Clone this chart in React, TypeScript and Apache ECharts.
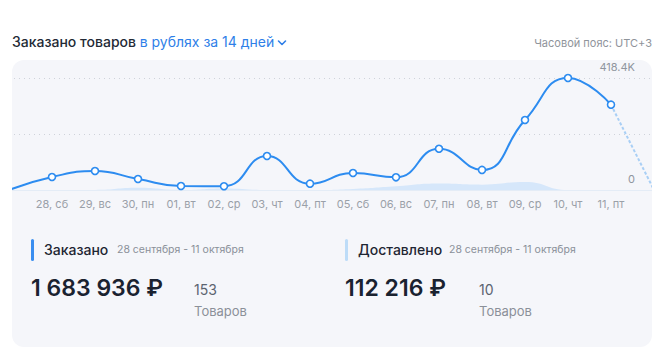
import React, { useEffect, useRef } from 'react';
import * as echarts from 'echarts';

const xLabels = ['', '28, сб', '29, вс', '30, пн', '01, вт', '02, ср', '03, чт', '04, пт', '05, сб', '06, вс', '07, пн', '08, вт', '09, ср', '10, чт', '11, пт', ''];
const ordered = [0, 48600, 71000, 41000, 15000, 14000, 127000, 23500, 63500, 47500, 154000, 75000, 261500, 418400, 318700, null];
const delivered = [0, 0, 0, 8000, 0, 6000, 0, 0, 4000, 14000, 24000, 20000, 30000, 0, 0, 0];
const forecastEnd = 0;
const yMax = 418400;
const yStep = 209200;

const FONT = 'Inter, "Noto Sans", sans-serif';

export default function App() {
  const ref = useRef<HTMLDivElement>(null);
  useEffect(() => {
    document.body.style.margin = '0';
    const chart = echarts.init(ref.current!, null, { renderer: 'svg' });
    const n = ordered.length;
    const forecast = ordered.map((v, i) => (i === n - 2 ? v : i === n - 1 ? forecastEnd : null));
    const main = ordered.map((v, i) => (i === 0 ? { value: v, symbol: 'none' } : v));
    chart.setOption({
      animation: false,
      grid: { left: 17, right: 18, top: 18, bottom: 30 },
      xAxis: {
        type: 'category',
        boundaryGap: false,
        data: xLabels,
        axisTick: { show: false },
        axisLine: { show: true, lineStyle: { color: '#e4ecf6', width: 1 } },
        axisLabel: { interval: 0, color: '#9aa0a8', fontSize: 11, fontFamily: FONT, margin: 8 },
        splitLine: { show: false },
      },
      yAxis: {
        type: 'value',
        position: 'right',
        min: 0,
        max: yMax,
        interval: yStep,
        axisLine: { show: false },
        axisTick: { show: false },
        splitLine: { show: true, lineStyle: { color: ['transparent', '#cfd3da', '#cfd3da'], type: [1, 4], width: 1 } },
        axisLabel: {
          inside: true,
          margin: 19,
          showMinLabel: true,
          showMaxLabel: true,
          verticalAlign: 'bottom',
          lineHeight: 13,
          padding: [0, 0, 5, 0],
          color: '#8f959e',
          fontSize: 11,
          fontFamily: FONT,
          formatter: (v: number) => (v === 0 ? '0' : v === yMax ? (yMax / 1000).toFixed(1) + 'K' : ''),
        },
      },
      series: [
        {
          type: 'line',
          data: delivered,
          smooth: true,
          symbol: 'none',
          lineStyle: { width: 0 },
          areaStyle: { color: '#d6e7fa', opacity: 1 },
          z: 1,
        },
        {
          type: 'line',
          data: forecast,
          smooth: true,
          symbol: 'none',
          lineStyle: { color: '#a9cff5', width: 2, type: [3, 2] },
          z: 2,
        },
        {
          type: 'line',
          data: main,
          smooth: true,
          symbol: 'circle',
          symbolSize: 7,
          showSymbol: true,
          lineStyle: { color: '#2d8cf0', width: 2 },
          itemStyle: { color: '#ffffff', borderColor: '#2d8cf0', borderWidth: 1.6 },
          z: 3,
        },
      ],
    });
    return () => chart.dispose();
  }, []);

  const abs = (x: number, y: number, extra: React.CSSProperties = {}): React.CSSProperties => ({
    position: 'absolute',
    left: x,
    top: y,
    whiteSpace: 'nowrap',
    ...extra,
  });

  return (
    <div style={{ position: 'relative', width: 662, height: 354, background: '#ffffff', fontFamily: FONT, overflow: 'hidden' }}>
      <div style={abs(12, 33, { fontSize: 14, lineHeight: '18px', fontWeight: 500, color: '#232a35' })}>
        Заказано товаров <span style={{ color: '#2f7fe8', fontWeight: 400 }}>в рублях за 14 дней</span>
        <svg width="10" height="8" viewBox="0 0 10 8" style={{ marginLeft: 3, verticalAlign: 'middle' }}>
          <polyline points="1.5,2 5,5.5 8.5,2" fill="none" stroke="#2f7fe8" strokeWidth="1.6" strokeLinecap="round" strokeLinejoin="round" />
        </svg>
      </div>
      <div style={abs(0, 36, { width: 652, textAlign: 'right', fontSize: 11, lineHeight: '14px', color: '#8f949b', left: 0 })}>
        Часовой пояс: UTC+3
      </div>
      <div style={{ position: 'absolute', left: 12, top: 60, width: 640, height: 287, background: '#f5f6fa', borderRadius: 12, overflow: 'hidden' }}>
        <div ref={ref} style={{ position: 'absolute', left: -20, top: 0, width: 680, height: 160 }} />
        {/* Ordered block */}
        <div style={abs(19, 179, { width: 3, height: 22, borderRadius: 2, background: '#3a8ef0' })} />
        <div style={abs(32, 181, { fontSize: 14, lineHeight: '18px', fontWeight: 500, color: '#1f2633' })}>Заказано</div>
        <div style={abs(105, 183, { fontSize: 10.5, lineHeight: '14px', color: '#8a9099' })}>28 сентября - 11 октября</div>
        <div style={abs(19, 214, { fontSize: 23, lineHeight: '28px', fontWeight: 600, color: '#1a2230' })}>1 683 936 ₽</div>
        <div style={abs(182, 221, { fontSize: 14, lineHeight: '18px', color: '#5c6470' })}>153</div>
        <div style={abs(182, 243, { fontSize: 13, lineHeight: '17px', color: '#8b9099' })}>Товаров</div>
        {/* Delivered block */}
        <div style={abs(333, 179, { width: 3, height: 22, borderRadius: 2, background: '#bddcf8' })} />
        <div style={abs(346, 181, { fontSize: 14, lineHeight: '18px', fontWeight: 500, color: '#1f2633' })}>Доставлено</div>
        <div style={abs(437, 183, { fontSize: 10.5, lineHeight: '14px', color: '#8a9099' })}>28 сентября - 11 октября</div>
        <div style={abs(333, 214, { fontSize: 23, lineHeight: '28px', fontWeight: 600, color: '#1a2230' })}>112 216 ₽</div>
        <div style={abs(467, 221, { fontSize: 14, lineHeight: '18px', color: '#5c6470' })}>10</div>
        <div style={abs(467, 243, { fontSize: 13, lineHeight: '17px', color: '#8b9099' })}>Товаров</div>
      </div>
    </div>
  );
}
